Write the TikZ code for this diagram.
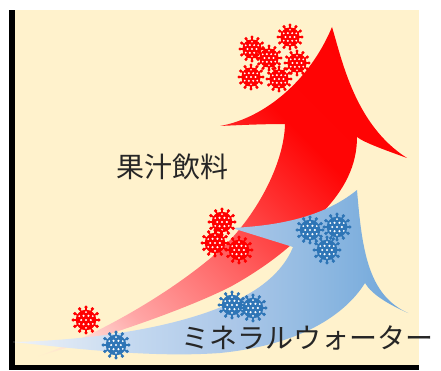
\documentclass[tikz,border=0pt]{standalone}
\usepackage{fontspec}
\newfontfamily\jpfont{Noto Sans CJK JP}
\definecolor{cream}{RGB}{255,242,204}
\definecolor{virusred}{RGB}{255,0,0}
\definecolor{virusblue}{RGB}{46,117,182}
\definecolor{labelgray}{RGB}{38,38,38}

% red swoosh: fades from the background colour into pure red
\pgfdeclarehorizontalshading{juiceflow}{100bp}{%
  rgb(0bp)=(1,0.949,0.8); rgb(15bp)=(1,0.949,0.8);
  rgb(22bp)=(1,0.85,0.83); rgb(29bp)=(1,0.65,0.65);
  rgb(42bp)=(1,0.42,0.42); rgb(55bp)=(1,0.18,0.18);
  rgb(64bp)=(1,0.02,0.02); rgb(100bp)=(1,0,0)}
% blue swoosh: pale at the tail, stronger blue at the head
\pgfdeclarehorizontalshading{waterflow}{100bp}{%
  rgb(0bp)=(0.95,0.96,0.98); rgb(25bp)=(0.94,0.95,0.97);
  rgb(40bp)=(0.77,0.85,0.94); rgb(53bp)=(0.67,0.78,0.91);
  rgb(61bp)=(0.59,0.74,0.89); rgb(69bp)=(0.5,0.69,0.87);
  rgb(75bp)=(0.42,0.64,0.85); rgb(100bp)=(0.42,0.64,0.85)}

\tikzset{
  virus/.pic={
    \fill (0,0) circle (10.3pt);
    \foreach \a in {0,30,...,330}{
      \draw[line width=1.6pt] (\a:9.5pt) -- (\a:12.6pt);
      \fill (\a:12.9pt) circle (1.8pt);
    }
    \fill[white] (0,0) circle (1.2pt);
    \foreach \a in {0,60,...,300} \fill[white] (\a:4.8pt) circle (1.2pt);
    \foreach \a in {30,90,...,330} \fill[white] (\a:7.8pt) circle (1pt);
  },
  redvirus/.style={color=virusred},
  bluevirus/.style={color=virusblue},
  label/.style={inner sep=0pt, anchor=base, text=labelgray,
    font=\jpfont\fontsize{28pt}{30pt}\selectfont},
}

\begin{document}
\begin{tikzpicture}[x=1pt, y=-1pt]
\useasboundingbox (0,0) rectangle (441,371);
\fill[white] (0,0) rectangle (441,371);

% plot area and axes
\fill[cream] (15,10) rectangle (419,364.5);
\fill[black] (9,10) rectangle (15,370);
\fill[black] (9,364.5) rectangle (419,370);

% fruit juice swoosh
\shade[shading=juiceflow, shading angle=45]
  (33,358) .. controls (100,335) and (175,290) .. (220,250)
  .. controls (255,218) and (284,165) .. (285,124)
  .. controls (265,124) and (240,125) .. (220,126)
  .. controls (265,118) and (310,80) .. (332,27)
  .. controls (342,60) and (355,125) .. (407,158)
  .. controls (385,150) and (365,143) .. (357,137)
  .. controls (357,165) and (345,190) .. (320,215)
  .. controls (300,240) and (270,265) .. (230,287)
  .. controls (180,312) and (100,338) .. (33,358) -- cycle;

% mineral water swoosh
\shade[shading=waterflow]
  (13,342) .. controls (100,340) and (200,325) .. (255,290)
  .. controls (275,277) and (287,262) .. (293,247)
  -- (232,228)
  .. controls (270,226) and (320,220) .. (357,190)
  .. controls (362,250) and (368,295) .. (408,313)
  .. controls (390,305) and (372,295) .. (365,283)
  .. controls (345,315) and (300,345) .. (220,353)
  .. controls (150,358) and (70,348) .. (13,342) -- cycle;

% bacteria in the juice
\pic[redvirus, scale=0.93] (r1) at (252,49) {virus};
\pic[redvirus, scale=0.93] (r2) at (290,37) {virus};
\pic[redvirus, scale=0.93] (r3) at (269,58) {virus};
\pic[redvirus, scale=0.93] (r4) at (297,63) {virus};
\pic[redvirus, scale=0.93] (r5) at (251,77) {virus};
\pic[redvirus, scale=0.93] (r6) at (279,79) {virus};
\pic[redvirus] (r7) at (222,222) {virus};
\pic[redvirus] (r8) at (215,243) {virus};
\pic[redvirus] (r9) at (239,250) {virus};
\pic[redvirus] (r10) at (86,320) {virus};

% bacteria in the water
\pic[bluevirus] (b1) at (310,230) {virus};
\pic[bluevirus] (b2) at (337,227) {virus};
\pic[bluevirus] (b3) at (327,250) {virus};
\pic[bluevirus] (b4) at (232,305) {virus};
\pic[bluevirus] (b5) at (253,308) {virus};
\pic[bluevirus] (b6) at (116,345) {virus};

% labels
\node[label] (juice) at (172.5,178) {果汁飲料};
\node[label] (water) at (307.5,348) {ミネラルウォーター};
\end{tikzpicture}
\end{document}
